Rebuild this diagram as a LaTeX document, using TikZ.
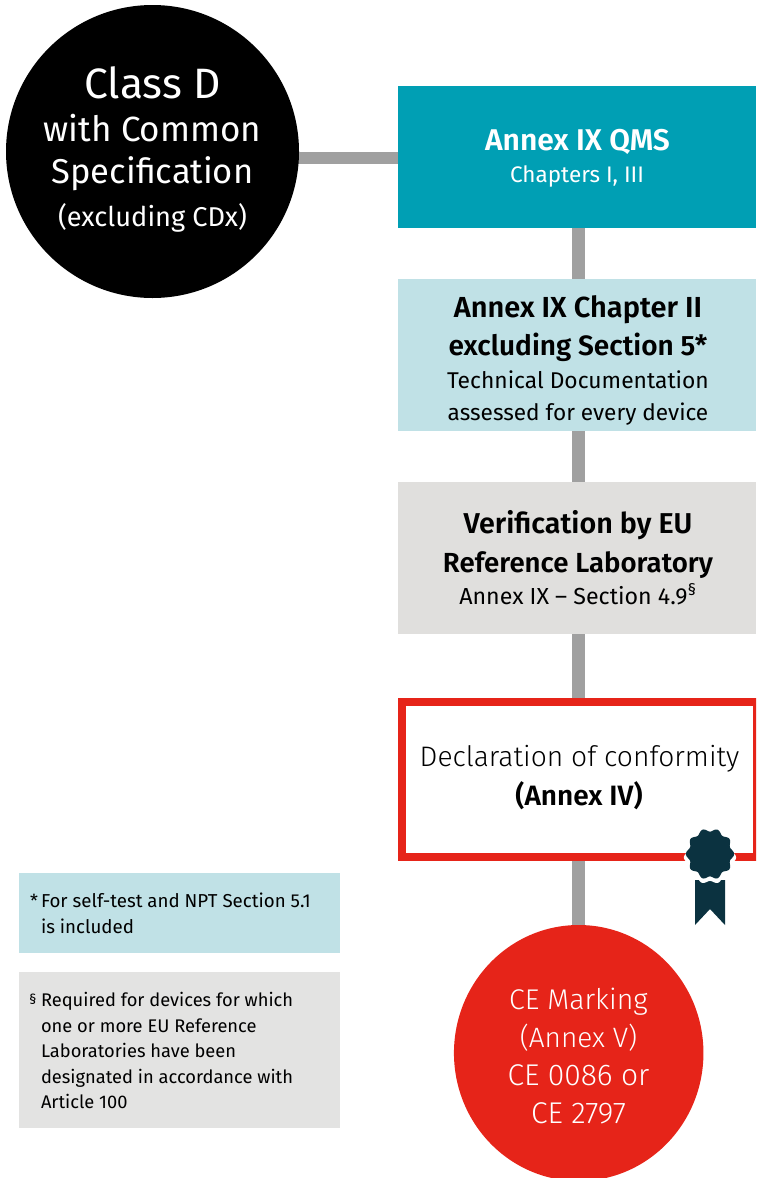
\documentclass[tikz,border=0pt]{standalone}
\usepackage{fontspec}
\setmainfont{Fira Sans}[BoldFont={Fira Sans SemiBold}]
\newfontfamily\lightf{Fira Sans Light}
\usetikzlibrary{backgrounds,shapes.geometric}
\definecolor{teal1}{HTML}{009FB4}
\definecolor{lblue}{HTML}{C0E1E6}
\definecolor{lgray}{HTML}{E0DFDD}
\definecolor{ngray}{HTML}{E3E3E2}
\definecolor{conn}{HTML}{A0A0A0}
\definecolor{cered}{HTML}{E62419}
\definecolor{navy}{HTML}{0B3240}
\tikzset{
  x=1pt,y=-1pt,
  boxn/.style={rectangle,draw=none,outer sep=0pt,inner sep=0pt,minimum width=358pt,align=center},
  circn/.style={circle,outer sep=0pt,inner sep=0pt,align=center,text=white},
  linkline/.style={draw=conn,line width=12.5pt},
  notebox/.style={rectangle,outer sep=0pt,inner sep=0pt,minimum width=321pt},
  lbl/.style={inner sep=0pt,outer sep=0pt,text=black,align=left,anchor=base west},
}
\newcommand{\fs}[2]{\fontsize{#1}{#2}\selectfont}
\begin{document}
\begin{tikzpicture}
\useasboundingbox (0,0) rectangle (756,1178);
\begin{scope}
\clip (0,0) rectangle (756,1178);
\node[circn,fill=black,minimum size=293pt] (classd) at (152.5,151.5) {};
\node[text=white,inner sep=0pt,anchor=base] (t1) at (152.5,98) {\fs{42.5}{43}Class D};
\node[text=white,inner sep=0pt,anchor=base] (t2) at (152.5,141) {\fs{35}{35}with Common};
\node[text=white,inner sep=0pt,anchor=base] (t3) at (152.5,183) {\fs{34.5}{35}Specification};
\node[text=white,inner sep=0pt,anchor=base] (t4) at (152.5,226) {\fs{27.2}{27}(excluding CDx)};

\node[boxn,fill=teal1,minimum height=142pt] (qms) at (577,157) {};
\node[text=white,inner sep=0pt,anchor=base] (q1) at (577.5,150) {\fs{30}{30}\bfseries Annex IX QMS};
\node[text=white,inner sep=0pt,anchor=base] (q2) at (577,182) {\fs{22.5}{23}Chapters I, III};

\node[boxn,fill=lblue,minimum height=152pt] (tech) at (577,355) {};
\node[inner sep=0pt,anchor=base] (c1) at (578,317) {\fs{29}{29}\bfseries Annex IX Chapter II};
\node[inner sep=0pt,anchor=base] (c2) at (578,355) {\fs{28}{28}\bfseries excluding Section 5*};
\node[inner sep=0pt,anchor=base] (c3) at (578,388) {\fs{22.8}{23}Technical Documentation};
\node[inner sep=0pt,anchor=base] (c4) at (578,420) {\fs{22.6}{23}assessed for every device};

\node[boxn,fill=lgray,minimum height=152pt] (ver) at (577,558) {};
\node[inner sep=0pt,anchor=base] (v1) at (578,533) {\fs{28.7}{29}\bfseries Verification by EU};
\node[inner sep=0pt,anchor=base] (v2) at (578,572) {\fs{27.6}{28}\bfseries Reference Laboratory};
\node[inner sep=0pt,anchor=base] (v3) at (578,604) {\fs{23.2}{23}Annex IX -- Section 4.9\textsuperscript{§}};

\node[rectangle,draw=cered,line width=8pt,fill=white,outer sep=0pt,inner sep=0pt,minimum width=355pt,minimum height=155.5pt] (doc) at (579.5,779.25) {};
\node[inner sep=0pt,anchor=base] (d1) at (579.5,766) {\lightf\fs{28.2}{28}Declaration of conformity};
\node[inner sep=0pt,anchor=base] (d2) at (579,805) {\fs{28}{28}\textbf{(Annex IV)}};

\node[ellipse,outer sep=0pt,inner sep=0pt,fill=cered,minimum width=249.5pt,minimum height=256pt] (ce) at (578.7,1053) {};
\node[text=white,inner sep=0pt,anchor=base] (e1) at (578.5,1009) {\lightf\fs{28.5}{28}CE Marking};
\node[text=white,inner sep=0pt,anchor=base] (e2) at (578.5,1047) {\lightf\fs{28}{28}(Annex V)};
\node[text=white,inner sep=0pt,anchor=base] (e3) at (578.5,1085) {\lightf\fs{30}{28}CE 0086 or};
\node[text=white,inner sep=0pt,anchor=base] (e4) at (578.5,1123) {\lightf\fs{30}{28}CE 2797};

\begin{pgfonlayer}{background}
\draw[linkline] ([yshift=-1pt]qms.center) -- ([yshift=-1pt]qms.center -| classd.center);
\draw[linkline] (qms.center -| ce.center) -- (tech.center -| ce.center);
\draw[linkline] (tech.center -| ce.center) -- (ver.center -| ce.center);
\draw[linkline] (ver.center -| ce.center) -- (doc.center -| ce.center);
\draw[linkline] (doc.center -| ce.center) -- (ce.center);
\end{pgfonlayer}

% rosette
\fill[navy] (695,880) -- (725,880) -- (725,925) -- (710,909) -- (695,925) -- cycle;
\fill[white] plot[domain=0:360,samples=120,smooth] ({710+(24.5+1.6*cos(10*\x))*cos(\x)},{857.5+(25+1.6*cos(10*\x))*sin(\x)}) -- cycle;
\fill[navy] plot[domain=0:360,samples=120,smooth] ({710+(22.5+1.6*cos(10*\x))*cos(\x)},{854+(24+1.6*cos(10*\x))*sin(\x)}) -- cycle;

% notes
\node[notebox,fill=lblue,minimum height=80pt] (n1) at (179.5,913) {};
\node[lbl] (n1a) at (30,907) {\fs{18}{18}*};
\node[lbl] (n1b) at (41,907) {\fs{18.7}{19}For self-test and NPT Section 5.1};
\node[lbl] (n1c) at (41,933) {\fs{18.7}{19}is included};
\node[notebox,fill=ngray,minimum height=156pt] (n2) at (179.5,1050) {};
\node[lbl] (n2a) at (29,1003) {\fs{14}{14}§};
\node[lbl] (n2b) at (41,1006) {\fs{18.3}{19}Required for devices for which};
\node[lbl] (n2c) at (41,1032) {\fs{18.3}{19}one or more EU Reference};
\node[lbl] (n2d) at (41,1057) {\fs{18.3}{19}Laboratories have been};
\node[lbl] (n2e) at (41,1083) {\fs{18.3}{19}designated in accordance with};
\node[lbl] (n2f) at (41,1108) {\fs{18.3}{19}Article 100};
\end{scope}
\end{tikzpicture}
\end{document}
